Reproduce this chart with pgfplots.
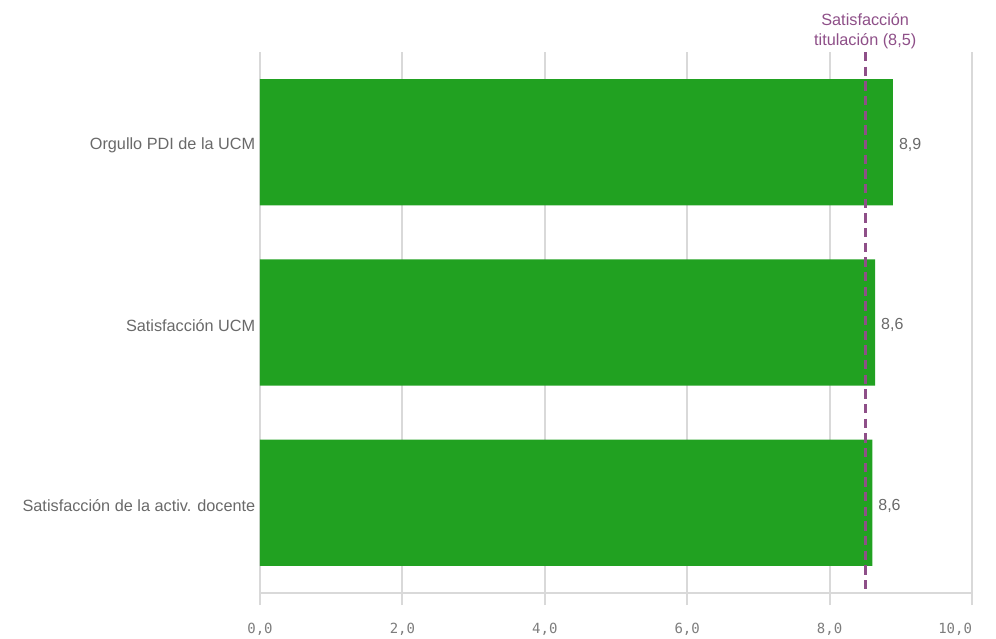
\documentclass[border=0pt]{standalone}
\usepackage{fontspec}
\setmainfont{Liberation Sans}
\newfontfamily\monofont{DejaVu Sans Mono}
\usepackage{pgfplots}
\pgfplotsset{compat=1.18}
\definecolor{barg}{RGB}{33,161,33}
\definecolor{refp}{RGB}{142,79,136}
\definecolor{txt}{RGB}{105,105,105}
\definecolor{tck}{RGB}{125,125,125}
\definecolor{gridc}{RGB}{217,217,217}
\begin{document}
\begin{tikzpicture}[x=1pt,y=1pt]
\begin{axis}[
  at={(0,0)}, anchor=south west,
  scale only axis, width=534pt, height=405.75pt,
  xmin=0, xmax=10, ymin=-0.5, ymax=2.5, y dir=reverse,
  xbar, bar width=0.7,
  axis x line*=bottom, axis y line*=left,
  axis line style={gridc, line width=1.5pt, -},
  xtick={0,2,4,6,8,10},
  xticklabels={{0,0},{2,0},{4,0},{6,0},{8,0},{\makebox[0pt][r]{10,0}}},
  ytick={0,1,2},
  yticklabels={Orgullo PDI de la UCM, Satisfacción UCM, Satisfacción de la activ. docente},
  xmajorgrids, major grid style={gridc, line width=1.5pt},
  tick align=outside, major tick length=9pt,
  xtick style={gridc, line width=1.5pt},
  ytick style={draw=none},
  x tick label style={font=\monofont\fontsize{10.5}{12}\selectfont, text=tck, yshift=-10pt},
  y tick label style={font=\fontsize{12.2}{14}\selectfont, text=txt, xshift=9pt, yshift=-2pt},
  clip=false,
  nodes near coords,
  point meta=explicit symbolic,
  nodes near coords style={font=\fontsize{12}{14}\selectfont, text=txt, anchor=west, xshift=1pt, yshift=-2pt},
]
\addplot[fill=barg, draw=none] table[x=v, y=c, meta=l, row sep=\\] {
v c l \\
8.89 0 8,9 \\
8.64 1 8,6 \\
8.60 2 8,6 \\
};
\addplot[refp, sharp plot, line width=2.2pt, dash pattern=on 7pt off 4pt, forget plot, nodes near coords=] coordinates {(8.5,-0.5) (8.5,2.5)};
\node[anchor=south, align=center, text=refp, font=\fontsize{12.2}{15}\selectfont, inner sep=2pt] at (axis cs:8.5,-0.5) {Satisfacción\\titulación (8,5)};
\end{axis}
\pgfresetboundingbox
\path (-195pt,-34.5pt) rectangle (552pt,444.75pt);
\end{tikzpicture}
\end{document}
